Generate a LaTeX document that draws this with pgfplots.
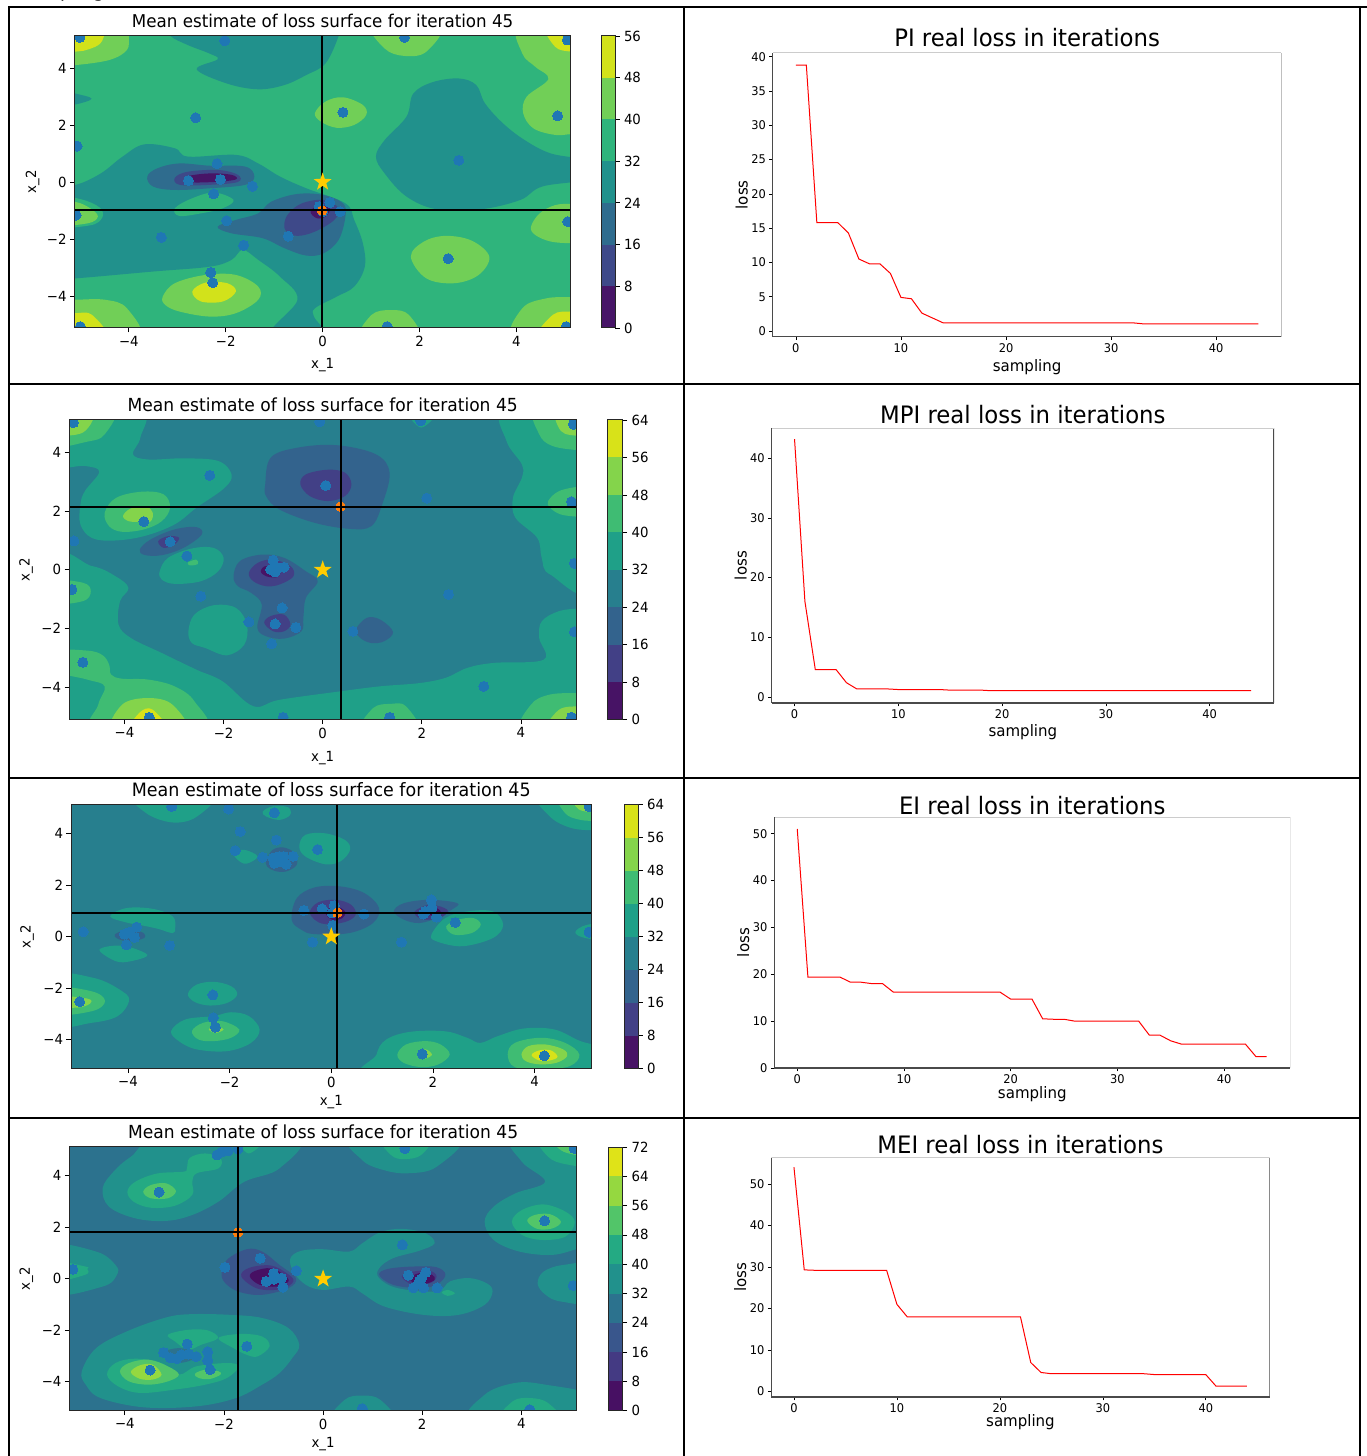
\documentclass[border=0pt]{standalone}
\usepackage{fontspec}
\setmainfont{DejaVu Sans}
\newfontfamily\cnd{DejaVu Sans}[FakeStretch=0.95]
\usepackage{pgfplots}
\pgfplotsset{compat=1.18}
\definecolor{a0}{HTML}{471567}\definecolor{a1}{HTML}{3E4989}\definecolor{a2}{HTML}{2F6C8E}\definecolor{a3}{HTML}{21918C}\definecolor{a4}{HTML}{2FB47C}\definecolor{a5}{HTML}{71CF57}\definecolor{a6}{HTML}{D2E21B}
\definecolor{b0}{HTML}{471365}\definecolor{b1}{HTML}{424086}\definecolor{b2}{HTML}{33638D}\definecolor{b3}{HTML}{277F8E}\definecolor{b4}{HTML}{1FA088}\definecolor{b5}{HTML}{3FBC73}\definecolor{b6}{HTML}{84D44B}\definecolor{b7}{HTML}{D8E219}
\definecolor{d0}{HTML}{471063}\definecolor{d1}{HTML}{443A83}\definecolor{d2}{HTML}{39568C}\definecolor{d3}{HTML}{2C728E}\definecolor{d4}{HTML}{21918C}\definecolor{d5}{HTML}{24AA83}\definecolor{d6}{HTML}{52C569}\definecolor{d7}{HTML}{95D840}\definecolor{d8}{HTML}{DFE318}
\definecolor{ptb}{HTML}{1F77B4}\definecolor{org}{HTML}{FF7F0E}\definecolor{gld}{HTML}{FFCC00}\definecolor{spn}{HTML}{4A4A4A}
\pgfdeclareplotmark{fstar}{%
 \pgfpathmoveto{\pgfpointpolar{90}{\pgfplotmarksize}}%
 \pgfpathlineto{\pgfpointpolar{126}{0.4\pgfplotmarksize}}\pgfpathlineto{\pgfpointpolar{162}{\pgfplotmarksize}}%
 \pgfpathlineto{\pgfpointpolar{198}{0.4\pgfplotmarksize}}\pgfpathlineto{\pgfpointpolar{234}{\pgfplotmarksize}}%
 \pgfpathlineto{\pgfpointpolar{270}{0.4\pgfplotmarksize}}\pgfpathlineto{\pgfpointpolar{306}{\pgfplotmarksize}}%
 \pgfpathlineto{\pgfpointpolar{342}{0.4\pgfplotmarksize}}\pgfpathlineto{\pgfpointpolar{18}{\pgfplotmarksize}}%
 \pgfpathlineto{\pgfpointpolar{54}{0.4\pgfplotmarksize}}\pgfpathclose\pgfusepathqfill}
\newcommand{\tf}{\cnd\fontsize{17.6}{20}\selectfont}
\newcommand{\tfb}{\cnd\fontsize{18}{20}\selectfont}
\newcommand{\tfc}{\cnd\fontsize{18.4}{20}\selectfont}
\newcommand{\tk}{\cnd\fontsize{14}{16}\selectfont}
\newcommand{\tl}{\cnd\fontsize{12}{14}\selectfont}
\newcommand{\ttl}{\cnd\fontsize{24}{28}\selectfont}
\newcommand{\lb}{\cnd\fontsize{15.8}{18}\selectfont}
\pgfplotsset{
 base/.style={scale only axis,clip=true,clip marker paths=true,axis on top,tick align=outside,major tick length=4.5pt,tick style={black,line width=.8pt},axis line style={line width=1pt,draw=black!85},/pgf/number format/assume math mode=true},
 cont/.style n args={7}{base,at={(#1pt,#2pt)},anchor=south west,width=#3pt,height=#4pt,
  xmin=-5.12,xmax=5.12,ymin=-5.12,ymax=5.12,xtick={-4,-2,0,2,4},ytick={-4,-2,0,2,4},xtick pos=bottom,ytick pos=left,
  xticklabels={−4,−2,0,2,4},yticklabels={−4,−2,0,2,4},ticklabel style={font=\tk},
  title={Mean estimate of loss surface for iteration 45},xlabel={x\_1},ylabel={x\_2},
  every axis title/.style={at={(rel axis cs:.5,1)},yshift=15pt,anchor=center,font=\tf},
  every axis x label/.style={at={(rel axis cs:.5,0)},yshift=-#6pt,anchor=center,font=\tk},
  every axis y label/.style={at={(rel axis cs:0,.5)},xshift=-#7pt,rotate=90,anchor=center,font=\tk},
  axis background/.style={fill=#5}},
 cbar/.style n args={6}{base,axis on top,at={(#1pt,#2pt)},anchor=south west,width=#3pt,height=#4pt,xmin=0,xmax=1,ymin=0,ymax=#5,xtick=\empty,ytick={#6},
  ytick pos=right,yticklabel pos=right,ticklabel style={font=\tk},yticklabel style={xshift=1pt}},
 loss/.style n args={9}{base,at={(#1pt,#2pt)},anchor=south west,width=#3pt,height=#4pt,
  xmin=#5,xmax=46.2,ymin=#6,ymax=#7,xtick={0,10,20,30,40},axis x line*=bottom,axis y line*=left,
  axis line style={line width=1.2pt,draw=spn,-},ticklabel style={font=\tl},tick style={black,line width=.6pt},major tick length=3.5pt,
  xlabel={sampling},ylabel={loss},
  every axis title/.style={at={(rel axis cs:.5,1)},yshift=#8pt,anchor=center,font=\ttl},
  every axis x label/.style={at={(rel axis cs:.5,0)},yshift=-#9pt,anchor=center,font=\lb},
  every axis y label/.style={at={(rel axis cs:0,.5)},xshift=-31pt,rotate=90,anchor=center,font=\lb}}
}
\newcommand{\rg}[2]{\addplot[fill=#1,draw=none,smooth cycle,tension=.6,forget plot] coordinates {#2};}
\newcommand{\pts}[1]{\addplot[only marks,mark=*,mark size=5pt,draw=ptb,fill=ptb,mark options={draw=ptb,fill=ptb,line width=0pt},forget plot] coordinates {#1};}
\newcommand{\best}[2]{%
 \addplot[only marks,mark=*,mark size=4.8pt,draw=org,fill=org,mark options={draw=org,fill=org,line width=0pt},forget plot] coordinates {(#1,#2)};
 \addplot[black,line width=2pt,forget plot] coordinates {(#1,-5.12)(#1,5.12)};
 \addplot[black,line width=2pt,forget plot] coordinates {(-5.12,#2)(5.12,#2)};
 \addplot[only marks,mark=fstar,mark size=9.5pt,draw=gld,fill=gld,mark options={draw=gld,fill=gld},forget plot] coordinates {(0,0)};}
\newcommand{\cb}[3]{\addplot[fill=#1,draw=none,forget plot] coordinates {(0,#2)(1,#2)(1,#3)(0,#3)} -- cycle;}
\newcommand{\frameR}{\draw[spn,line width=1.2pt] (rel axis cs:1,0)--(rel axis cs:1,1); \draw[black!20,line width=1pt] (rel axis cs:0,1)--(rel axis cs:1,1);}
\begin{document}
\begin{tikzpicture}
\useasboundingbox (0pt,0pt) rectangle (1367pt,1456pt);
\fill[white] (0pt,0pt) rectangle (1367pt,1456pt);
\begin{scope}
\clip (0pt,0pt) rectangle (1367pt,1456pt);
\node[anchor=base west,inner sep=0pt,font=\fontsize{18}{20}\selectfont] at (20pt,1458.5pt) {Sampling};
\end{scope}
% ---------- panel 1
\begin{axis}[cont={74.6}{1128}{496.1}{292}{a4}{37}{42}]
\rg{a3}{(-3.2,5.5)(-3.14,5.12)(-2.78,4.8)(-2.33,4.5)(-2.17,4.3)(-2.6,3.95)(-1.97,3.45)(-1.33,3.25)(-.79,3.4)(-.34,3.75)(.06,4.16)(.33,5.12)(.35,5.5)}
\rg{a3}{(-5.4,3.2)(-5.1,3.1)(-4.77,2.92)(-5.1,2.72)(-5.4,2.7)}
\rg{a3}{(2.81,3.63)(3.17,3.4)(3.35,2.76)(3.72,2.06)(4.17,1.47)(4.71,1.0)(5.5,.72)(5.5,.12)(4.53,-.16)(4.08,-.63)(3.26,-.96)(2.36,-.96)(1.73,-.51)(1.28,.3)(1.1,.89)(1.28,1.47)(1.73,2.29)(1.87,3.1)(2.27,3.5)}
\rg{a3}{(-5.6,-.1)(-5.1,-.1)(-4.58,.3)(-4.13,.89)(-3.68,1.32)(-3.05,1.18)(-2.78,.89)(-1.79,.95)(-1.33,.65)(-.88,.19)(-.34,-.22)(.47,-.75)(.65,-1.33)(.83,-2.15)(.87,-2.97)(.65,-3.67)(.29,-4.02)(-.16,-4.43)(-.18,-4.72)(-.03,-5.3)(-1.06,-5.3)(-.52,-4.13)(-.88,-3.32)(-1.33,-2.73)(-1.65,-2.38)(-1.88,-2.73)(-2.33,-2.97)(-3.5,-3.14)(-5.1,-3.38)(-5.6,-3.4)}
\rg{a4}{(-5.5,-.55)(-5,-.6)(-4.6,-.9)(-4.55,-1.25)(-4.8,-1.52)(-5.5,-1.52)}
\rg{a5}{(-5.5,-.7)(-5.1,-.7)(-4.8,-.92)(-4.64,-1.21)(-4.85,-1.45)(-5.5,-1.47)}
\rg{a4}{(-3.05,-.92)(-2.69,-.57)(-2.24,-.37)(-1.84,-.63)(-2.06,-.92)(-2.51,-1.1)(-2.96,-1.19)}
\rg{a2}{(-3.62,.19)(-3.41,.48)(-2.96,.65)(-2.33,.57)(-1.6,.54)(-1.41,.19)(-1.6,-.1)(-2.33,-.22)(-3.05,-.28)(-3.5,-.16)}
\rg{a1}{(-3.05,.15)(-2.78,.36)(-2.15,.42)(-1.75,.25)(-1.75,0)(-2.33,-.1)(-2.95,-.1)}
\rg{a0}{(-2.78,.2)(-2.33,.3)(-1.88,.25)(-1.79,.09)(-2.24,0)(-2.78,0)}
\rg{a2}{(-2.17,-1.57)(-1.79,-1.33)(-1.33,-1.1)(-1.06,-.69)(-.52,-.42)(.02,-.46)(.42,-.75)(.47,-1.21)(.33,-2.03)(.02,-2.5)(-.34,-2.58)(-.79,-2.32)(-1.24,-1.97)(-1.88,-1.8)}
\rg{a1}{(-.79,-1.45)(-.7,-1.1)(-.43,-.75)(.02,-.63)(.33,-.92)(.24,-1.33)(-.16,-1.74)(-.52,-1.89)(-.75,-1.74)}
\rg{a0}{(-.25,-1.04)(-.07,-.81)(.15,-.92)(.06,-1.21)(-.12,-1.27)}
\rg{a5}{(-5.5,4.1)(-5.1,4.1)(-4.4,4.28)(-4.04,4.63)(-4.0,5.12)(-4.0,5.5)(-5.5,5.5)}
\rg{a6}{(-5.5,4.57)(-5.11,4.57)(-4.94,4.6)(-4.63,4.8)(-4.51,5.12)(-4.5,5.5)(-5.5,5.5)}
\rg{a5}{(1.05,5.5)(1.28,4.68)(1.69,4.42)(2.14,4.57)(2.42,5.5)}
\rg{a5}{(4.08,5.5)(4.12,4.51)(4.39,4.04)(4.66,3.61)(4.21,2.99)(4.14,2.41)(4.35,1.88)(4.8,1.65)(5.14,1.68)(5.5,1.68)(5.5,5.5)}
\rg{a6}{(4.62,5.5)(4.8,4.74)(5.14,4.57)(5.5,4.57)(5.5,5.5)}
\rg{a5}{(-.16,2.41)(.06,2.82)(.42,2.97)(.83,2.7)(.9,2.35)(.65,2.0)(.29,1.9)(-.03,2.11)}
\rg{a5}{(4.3,-1.57)(4.48,-1.1)(4.8,-.81)(5.14,-.77)(5.5,-.77)(5.5,-2.15)(5.14,-2.15)(4.71,-2.09)(4.39,-1.86)}
\rg{a5}{(1.82,-2.62)(2.09,-2.09)(2.54,-1.89)(3.08,-2.06)(3.44,-2.62)(3.22,-3.26)(2.72,-3.55)(2.14,-3.38)}
\rg{a5}{(-3.3,-4.02)(-3.05,-3.55)(-2.42,-3.26)(-1.79,-3.26)(-1.33,-3.67)(-1.33,-4.13)(-1.79,-4.6)(-2.33,-4.72)(-2.96,-4.54)(-3.25,-4.31)}
\rg{a6}{(-2.69,-3.84)(-2.42,-3.53)(-1.97,-3.55)(-1.79,-3.84)(-2.06,-4.19)(-2.51,-4.19)}
\rg{a5}{(-5.5,-4.13)(-5.11,-4.13)(-4.49,-4.13)(-4.04,-4.43)(-3.82,-5.5)(-5.5,-5.5)}
\rg{a6}{(-5.5,-4.6)(-5.11,-4.6)(-4.76,-4.66)(-4.46,-5.5)(-5.5,-5.5)}
\rg{a5}{(.8,-5.5)(1.01,-4.66)(1.42,-4.49)(1.78,-4.66)(1.96,-5.5)}
\rg{a5}{(3.95,-5.5)(4.12,-4.43)(4.62,-4.08)(5.14,-4.04)(5.5,-4.04)(5.5,-5.5)}
\rg{a6}{(4.45,-5.5)(4.75,-4.66)(5.14,-4.54)(5.5,-4.54)(5.5,-5.5)}
\pts{(-5.01,5.07)(-2.02,4.95)(1.69,5.07)(5.05,4.98)(-2.62,2.25)(.42,2.44)(4.85,2.32)(-5.07,1.26)(2.81,.76)(-2.18,.64)(-2.77,.05)(-2.11,.09)(-1.45,-.15)(-2.25,-.42)(-5.09,-1.16)(-1.98,-1.36)(-.07,-.86)(.15,-.72)(.36,-1.04)(0,-1.04)(-.71,-1.9)(-3.33,-1.94)(-1.63,-2.22)(5.06,-1.39)(2.59,-2.69)(-2.31,-3.17)(-2.27,-3.53)(-5.0,-5.07)(1.33,-5.07)(5.03,-5.07)}
\best{-.01}{-1}
\end{axis}
\begin{axis}[cbar={601}{1128}{14}{292}{56}{0,8,16,24,32,40,48,56}]
\cb{a0}{0}{8}\cb{a1}{8}{16}\cb{a2}{16}{24}\cb{a3}{24}{32}\cb{a4}{32}{40}\cb{a5}{40}{48}\cb{a6}{48}{56}
\end{axis}
% ---------- panel 2
\begin{axis}[cont={69}{736.3}{507.4}{299.7}{b3}{38}{43},title style={font=\tfb}]
\rg{b4}{(-5.5,5.5)(-3.69,5.5)(-3.68,4.52)(-3.83,3.95)(-3.52,3.77)(-2.81,3.81)(-2.11,3.72)(-1.84,3.26)(-1.98,2.8)(-2.55,2.12)(-2.99,1.55)(-3.61,1.15)(-4.22,1.0)(-4.66,1.09)(-4.89,1.55)(-4.89,2.23)(-4.8,2.69)(-4.51,3.35)(-4.8,3.55)(-5.5,3.63)}
\rg{b5}{(-4.4,1.95)(-4.17,2.46)(-3.65,2.67)(-3.21,2.58)(-3.08,2.12)(-3.25,1.66)(-3.61,1.38)(-4.05,1.3)(-4.31,1.49)}
\rg{b6}{(-4.03,1.84)(-3.87,2.1)(-3.56,2.16)(-3.43,1.95)(-3.47,1.66)(-3.65,1.64)(-3.91,1.66)}
\rg{b5}{(-5.5,4.26)(-4.75,4.38)(-4.4,4.63)(-4.24,5.5)(-5.5,5.5)}
\rg{b6}{(-5.5,4.69)(-4.84,4.69)(-4.64,5.5)(-5.5,5.5)}
\rg{b4}{(1.7,5.5)(1.99,4.86)(2.33,5.5)}
\rg{b4}{(3.69,5.5)(3.71,4.4)(4.02,3.6)(4.02,3.15)(3.84,2.46)(3.89,1.78)(4.33,1.09)(4.42,.41)(4.59,-.16)(5.5,-.5)(5.5,5.5)}
\rg{b5}{(4.31,5.5)(4.37,4.63)(4.64,4.23)(5.2,4.08)(5.5,4.08)(5.5,5.5)}
\rg{b6}{(4.73,5.5)(4.81,4.74)(5.2,4.57)(5.5,4.57)(5.5,5.5)}
\rg{b5}{(4.55,2.35)(4.77,2.69)(5.2,2.85)(5.5,2.85)(5.5,1.81)(5.2,1.81)(4.81,1.89)(4.59,2.12)}
\rg{b4}{(-5.5,.2)(-4.66,.13)(-4.18,-.22)(-3.92,-.62)(-4.09,-1.07)(-4.12,-1.87)(-3.87,-2.33)(-3.25,-2.84)(-2.55,-3.41)(-2.02,-3.81)(-1.4,-4.66)(-.87,-4.44)(.36,-4.15)(1.16,-3.98)(1.95,-3.87)(2.48,-3.69)(2.92,-3.35)(3.45,-3.18)(4.46,-3.07)(4.37,-2.33)(4.42,-1.76)(4.77,-1.41)(5.2,-1.32)(5.6,-1.32)(5.6,-5.6)(-5.6,-5.6)}
\rg{b5}{(-5.5,-.39)(-4.84,-.44)(-4.68,-.73)(-4.84,-1.07)(-5.5,-1.13)}
\rg{b5}{(-5.5,-2.78)(-4.75,-2.76)(-4.44,-2.92)(-4.31,-3.24)(-4.27,-3.58)(-4.05,-3.72)(-3.52,-3.75)(-2.99,-3.98)(-2.59,-4.49)(-2.42,-5.5)(-4.58,-5.5)(-4.53,-4.61)(-4.4,-3.98)(-4.75,-3.75)(-5.5,-3.41)}
\rg{b6}{(-4.2,-5.5)(-4.05,-4.61)(-3.52,-4.38)(-3.03,-4.61)(-2.8,-5.5)}
\rg{b7}{(-3.88,-5.5)(-3.69,-4.87)(-3.43,-4.78)(-3.15,-5.5)}
\rg{b5}{(.8,-5.5)(1.02,-4.72)(1.38,-4.58)(1.68,-4.66)(1.9,-5.5)}
\rg{b5}{(4.05,-5.5)(4.2,-4.61)(4.59,-4.26)(5.2,-4.21)(5.5,-4.21)(5.5,-5.5)}
\rg{b6}{(4.55,-5.5)(4.77,-4.78)(5.2,-4.66)(5.5,-4.66)(5.5,-5.5)}
\rg{b4}{(-3.29,-.05)(-3.12,.41)(-2.64,.73)(-2.2,.75)(-2.0,.41)(-2.11,-.05)(-2.46,-.39)(-2.99,-.48)(-3.25,-.33)}
\rg{b5}{(-2.72,.25)(-2.55,.35)(-2.52,.2)(-2.68,.15)}
\rg{b4}{(-2.71,-2.1)(-2.59,-1.53)(-2.2,-1.21)(-1.75,-1.3)(-1.53,-1.87)(-1.58,-2.55)(-1.93,-2.92)(-2.37,-2.67)(-2.64,-2.5)}
\rg{b2}{(-1.16,2.92)(-1.05,3.83)(-.52,4.17)(.27,4.26)(1.07,3.95)(1.35,3.32)(1.2,2.23)(.98,1.49)(.54,1.4)(-.17,1.61)(-.87,2.06)(-1.14,2.51)}
\rg{b1}{(-.45,2.92)(-.34,3.26)(.1,3.42)(.45,3.32)(.58,2.92)(.45,2.52)(.1,2.35)(-.26,2.52)}
\rg{b2}{(-3.69,.7)(-3.47,1.04)(-2.99,1.38)(-2.55,1.46)(-2.44,1.21)(-2.81,.75)(-3.25,.5)(-3.6,.51)}
\rg{b1}{(-3.32,.98)(-3.12,1.15)(-2.9,1.1)(-2.99,.87)(-3.21,.75)}
\rg{b2}{(-1.8,-.22)(-1.67,.3)(-1.23,.52)(-.78,.41)(-.34,-.05)(-.1,-.39)(-.34,-.96)(-.39,-1.64)(-.43,-2.1)(-.78,-2.35)(-1.14,-2.27)(-1.32,-1.98)(-1.23,-1.18)(-1.45,-.78)(-1.71,-.56)}
\rg{b1}{(-1.49,-.1)(-1.31,.24)(-1.0,.35)(-.65,.13)(-.59,-.22)(-.87,-.5)(-1.14,-.56)(-1.4,-.39)}
\rg{b0}{(-1.25,-.05)(-1.14,.13)(-.87,-.05)(-.92,-.25)(-1.14,-.22)}
\rg{b1}{(-1.18,-1.81)(-1.05,-1.58)(-.78,-1.53)(-.65,-1.87)(-.78,-2.1)(-1.0,-2.1)}
\rg{b2}{(.67,-2.04)(.89,-1.64)(1.16,-1.7)(1.42,-2.12)(1.24,-2.44)(.98,-2.5)(.76,-2.33)}
\pts{(-5.03,5.03)(-.06,5.06)(1.98,5.09)(5.06,4.97)(-2.28,3.23)(.06,2.88)(2.1,2.45)(5.02,2.33)(-3.61,1.65)(-3.08,.96)(-5.02,.99)(-2.74,.47)(5.08,.22)(-1.0,.33)(-1.05,.01)(-.92,.07)(-.78,.09)(-.96,-.07)(-5.06,-.67)(-2.46,-.9)(2.54,-.84)(-.82,-1.3)(-1.49,-1.78)(-.96,-1.85)(-.54,-1.97)(.61,-2.1)(5.08,-2.12)(-1.03,-2.53)(-4.84,-3.16)(3.25,-3.98)(-3.5,-5.04)(-.8,-5.04)(1.35,-5.04)(5.02,-5.04)}
\best{.36}{2.16}
\end{axis}
\begin{axis}[cbar={607}{736.3}{15.6}{299.7}{64}{0,8,16,24,32,40,48,56,64}]
\cb{b0}{0}{8}\cb{b1}{8}{16}\cb{b2}{16}{24}\cb{b3}{24}{32}\cb{b4}{32}{40}\cb{b5}{40}{48}\cb{b6}{48}{56}\cb{b7}{56}{64}
\end{axis}
% ---------- panel 3
\begin{axis}[cont={71}{387.3}{520.6}{264}{b3}{33}{44},title style={font=\tfc}]
\rg{b4}{(-3.85,5.5)(-3.64,4.79)(-3.12,4.43)(-2.65,4.65)(-2.35,5.5)}
\rg{b4}{(4.1,5.5)(4.3,4.66)(4.73,4.21)(5.25,4.12)(5.5,4.12)(5.5,5.5)}
\rg{b5}{(4.5,5.5)(4.6,4.79)(4.9,4.53)(5.25,4.49)(5.5,4.49)(5.5,5.5)}
\rg{b6}{(4.78,5.5)(4.86,4.95)(5.25,4.81)(5.5,4.81)(5.5,5.5)}
\rg{b4}{(-1.35,4.85)(-1.15,5.06)(-.85,5.02)(-.81,4.72)(-1.02,4.53)(-1.28,4.66)}
\rg{b4}{(-.63,3.5)(-.51,3.95)(-.12,4.01)(.27,3.75)(.37,3.37)(.18,2.92)(-.12,2.81)(-.51,3.11)}
\rg{b4}{(-1.92,3.24)(-1.71,3.37)(-1.45,3.11)(-1.67,2.83)(-1.84,2.98)}
\rg{b4}{(-4.35,.79)(-4.03,1.11)(-3.51,1.08)(-3.12,.79)(-3.07,.34)(-3.12,.14)(-3.4,.3)(-3.7,.43)(-4.03,.55)}
\rg{b4}{(-4.56,-.5)(-4.11,-.35)(-3.62,-.7)(-3.94,-.95)(-4.24,-.95)}
\rg{b4}{(1.97,.08)(2.24,.72)(2.67,.98)(3.18,.98)(3.38,.46)(3.18,-.05)(2.58,-.37)(2.07,-.18)}
\rg{b5}{(2.26,.4)(2.5,.66)(2.8,.72)(2.94,.46)(2.76,.14)(2.41,.08)}
\rg{b4}{(4.8,.18)(5.03,.46)(5.5,.49)(5.5,-.12)(4.99,-.05)}
\rg{b4}{(-5.5,-1.54)(-4.67,-1.6)(-4.11,-2.12)(-3.98,-2.5)(-4.2,-3.08)(-4.71,-3.34)(-5.5,-3.41)}
\rg{b5}{(-5.5,-1.99)(-4.71,-2.12)(-4.45,-2.5)(-4.71,-2.89)(-5.5,-2.99)}
\rg{b6}{(-5.5,-2.3)(-4.8,-2.4)(-4.75,-2.6)(-5.0,-2.75)(-5.5,-2.7)}
\rg{b4}{(-2.82,-2.22)(-2.65,-1.86)(-2.31,-1.75)(-1.97,-1.92)(-1.85,-2.25)(-2.05,-2.57)(-2.39,-2.67)(-2.69,-2.53)}
\rg{b4}{(-3.15,-3.66)(-2.87,-3.21)(-2.31,-3.08)(-1.97,-2.93)(-1.62,-3.08)(-1.41,-3.6)(-1.58,-4.12)(-2.05,-4.44)(-2.65,-4.37)(-3.0,-4.05)}
\rg{b5}{(-2.74,-3.66)(-2.52,-3.34)(-2.14,-3.28)(-1.81,-3.6)(-1.97,-3.92)(-2.31,-4.05)(-2.61,-3.99)}
\rg{b6}{(-2.41,-3.6)(-2.27,-3.47)(-2.12,-3.6)(-2.27,-3.73)}
\rg{b4}{(.9,-5.5)(.89,-4.57)(1.08,-3.99)(1.55,-3.69)(2.24,-3.67)(2.67,-3.92)(2.93,-4.12)(3.27,-3.86)(3.79,-3.56)(4.39,-3.6)(4.9,-4.05)(5.5,-4.45)(5.5,-5.5)}
\rg{b5}{(1.3,-4.57)(1.47,-4.18)(1.85,-4.05)(2.15,-4.18)(2.33,-4.57)(2.11,-4.95)(1.77,-5.06)(1.42,-4.89)}
\rg{b6}{(1.71,-4.57)(1.85,-4.37)(1.98,-4.57)(1.85,-4.72)}
\rg{b5}{(3.47,-4.57)(3.61,-4.12)(4.13,-3.92)(4.6,-4.12)(4.88,-4.57)(4.69,-5.02)(4.13,-5.15)(3.61,-5.06)}
\rg{b6}{(3.74,-4.57)(3.87,-4.25)(4.21,-4.18)(4.56,-4.37)(4.64,-4.63)(4.43,-4.89)(4.09,-4.95)(3.83,-4.83)}
\rg{b7}{(3.94,-4.59)(4.09,-4.41)(4.32,-4.41)(4.45,-4.66)(4.3,-4.8)(4.09,-4.8)}
\rg{b2}{(-.78,.66)(-.68,1.49)(-.33,1.91)(.18,1.95)(.65,1.69)(.94,1.11)(.82,.53)(.35,.14)(-.33,.1)(-.59,.27)}
\rg{b1}{(-.42,.98)(-.25,1.34)(.09,1.43)(.39,1.24)(.48,.85)(.27,.57)(-.12,.49)(-.33,.66)}
\rg{b0}{(-.12,.98)(.09,1.17)(.27,.98)(.22,.72)(.01,.66)}
\rg{b2}{(1.23,.98)(1.43,1.3)(1.94,1.43)(2.48,1.3)(2.37,1.05)(2.07,.72)(1.73,.53)(1.43,.66)}
\rg{b1}{(1.64,.98)(1.94,1.24)(2.28,1.05)(2.2,.79)(1.94,.66)(1.73,.72)}
\rg{b0}{(1.77,1.05)(1.98,1.17)(2.15,.98)(1.98,.83)(1.81,.88)}
\rg{b2}{(-1.28,2.98)(-1.15,3.37)(-.94,3.46)(-.72,3.24)(-.68,2.79)(-.89,2.53)(-1.11,2.55)(-1.26,2.72)}
\rg{b2}{(-4.26,.08)(-4.07,.23)(-3.73,.18)(-3.68,-.05)(-3.98,-.18)(-4.2,-.08)}
\pts{(-3.14,5.05)(-2.02,4.95)(-1.12,4.81)(5.07,5.05)(-1.79,4.08)(-1.08,3.75)(-1.89,3.34)(-.27,3.38)(-1.35,3.08)(-1.15,3.05)(-1.02,3.11)(-.94,3.11)(-.75,3.12)(-1.12,2.85)(-1.02,2.92)(-.89,2.81)(1.97,1.43)(1.98,1.11)(1.85,.98)(1.81,.88)(2.07,.76)(2.44,.55)(-.54,1.02)(-.18,1.08)(.06,1.21)(.01,.92)(.64,.88)(.03,.44)(-.37,-.21)(1.38,-.21)(5.07,.18)(-4.88,.19)(-3.83,.37)(-4.07,.1)(-3.97,.17)(-3.87,-.03)(-4.03,-.31)(-3.18,-.34)(-4.95,-2.52)(-2.33,-2.26)(-2.32,-3.14)(-2.28,-3.51)(1.79,-4.55)(4.19,-4.62)}
\best{.12}{.93}
\end{axis}
\begin{axis}[cbar={624}{387.3}{14}{264}{64}{0,8,16,24,32,40,48,56,64}]
\cb{b0}{0}{8}\cb{b1}{8}{16}\cb{b2}{16}{24}\cb{b3}{24}{32}\cb{b4}{32}{40}\cb{b5}{40}{48}\cb{b6}{48}{56}\cb{b7}{56}{64}
\end{axis}
% ---------- panel 4
\begin{axis}[cont={69.4}{45.3}{507.4}{263.7}{d3}{33}{43},title style={font=\tfb}]
\rg{d4}{(-3.2,5.5)(-3.88,4.74)(-4.23,4.16)(-4.45,3.51)(-4.32,2.8)(-3.79,2.35)(-3.17,2.25)(-2.64,2.48)(-2.11,3.0)(-1.59,3.77)(-.88,4.29)(-.57,5.5)}
\rg{d5}{(-3.95,3.38)(-3.79,3.77)(-3.35,4.09)(-2.82,4.16)(-2.75,4.29)(-2.69,4.7)(-2.38,4.87)(-2.07,4.68)(-2.11,4.29)(-2.55,4.1)(-2.64,3.77)(-2.64,3.26)(-2.99,2.84)(-3.47,2.76)(-3.82,2.99)}
\rg{d6}{(-3.63,3.38)(-3.48,3.64)(-3.17,3.71)(-2.97,3.41)(-3.13,3.13)(-3.48,3.13)}
\rg{d5}{(-1.7,5.5)(-1.5,4.87)(-1.15,5.5)}
\rg{d4}{(.6,5.5)(.79,4.61)(1.23,4.22)(1.72,4.1)(2.29,4.35)(2.72,5.5)}
\rg{d5}{(1.18,5.5)(1.37,4.81)(1.63,4.65)(1.98,4.81)(2.15,5.5)}
\rg{d4}{(3.84,5.5)(4.01,4.55)(4.48,3.77)(3.88,3.32)(3.44,2.8)(3.26,2.22)(3.44,1.51)(3.96,1.06)(4.63,.93)(5.2,1.19)(5.5,1.19)(5.5,5.5)}
\rg{d5}{(4.39,5.5)(4.54,4.74)(4.93,4.44)(5.5,4.42)(5.5,5.5)}
\rg{d6}{(4.69,5.5)(4.85,4.94)(5.5,4.78)(5.5,5.5)}
\rg{d5}{(3.81,2.22)(4.01,2.67)(4.45,2.89)(4.89,2.61)(5.08,2.2)(4.89,1.64)(4.41,1.51)(4.01,1.71)}
\rg{d6}{(4.12,2.25)(4.27,2.48)(4.58,2.51)(4.8,2.22)(4.63,1.96)(4.32,1.94)}
\rg{d4}{(4.33,-.19)(4.45,.28)(4.85,.54)(5.5,.52)(5.5,-.9)(4.8,-.88)(4.49,-.62)}
\rg{d4}{(-5.5,1.25)(-4.58,1.06)(-4.19,.54)(-4.16,.16)(-4.45,-.3)(-5.5,-.56)}
\rg{d5}{(-5.5,.67)(-4.8,.48)(-4.76,.39)(-4.8,.16)(-5.5,-.1)}
\rg{d4}{(-.66,.8)(-.44,1.09)(0,1.15)(.53,1.06)(.79,1.38)(1.15,1.81)(1.59,1.94)(2.07,1.77)(2.25,1.38)(1.94,1.09)(1.41,.8)(1.13,.41)(1.13,.03)(1.5,-.36)(2.29,-.49)(2.56,-.1)(2.95,.03)(3.3,-.17)(3.42,-.49)(3.26,-1.01)(2.73,-1.4)(2.03,-1.4)(1.23,-1.07)(.79,-.56)(.53,-.3)(0,-.43)(-.35,-.23)(-.6,.28)}
\rg{d5}{(2.4,-.53)(2.51,-.43)(2.66,-.56)(2.51,-.66)}
\rg{d2}{(1.13,.16)(1.32,.39)(1.85,.48)(2.29,.45)(2.47,.16)(2.29,-.23)(1.94,-.36)(1.41,-.23)}
\rg{d1}{(1.59,.09)(1.81,.28)(2.16,.31)(2.29,.09)(2.16,-.17)(1.81,-.23)}
\rg{d0}{(1.76,.03)(1.94,.22)(2.2,.16)(2.25,-.04)(2.07,-.19)(1.85,-.19)}
\rg{d2}{(-2.05,.16)(-1.94,.74)(-1.54,1.15)(-1.23,1.06)(-.88,.54)(-.55,.03)(-.7,-.36)(-1.23,-.62)(-1.67,-.52)(-1.94,-.23)}
\rg{d1}{(-1.65,.09)(-1.5,.42)(-1.06,.52)(-.72,.2)(-.6,-.1)(-.85,-.4)(-1.32,-.38)}
\rg{d0}{(-1.48,.09)(-1.37,.31)(-1.06,.41)(-.79,.16)(-.7,-.1)(-.93,-.3)(-1.28,-.23)}
\rg{d4}{(-4.87,-3.59)(-4.58,-2.69)(-3.96,-2.04)(-3.17,-1.5)(-2.64,-1.37)(-1.85,-1.4)(-1.23,-1.52)(-.7,-1.91)(-.48,-2.56)(-.62,-3.07)(-.88,-3.66)(-1.23,-4.11)(-1.76,-4.63)(-2.55,-4.95)(-3.61,-4.99)(-4.49,-4.63)(-4.79,-4.11)}
\rg{d5}{(-3.13,-2.17)(-2.73,-1.98)(-2.33,-2.0)(-2.12,-2.3)(-2.46,-2.56)(-2.73,-2.75)(-2.99,-2.43)}
\rg{d5}{(-2.11,-2.3)(-1.67,-2.14)(-1.23,-2.24)(-1.08,-2.62)(-1.32,-3.01)(-1.54,-2.95)(-1.81,-2.69)}
\rg{d5}{(-4.36,-3.72)(-4.19,-3.27)(-3.79,-3.1)(-3.26,-3.27)(-2.91,-3.72)(-2.56,-3.4)(-1.94,-3.27)(-1.7,-3.4)(-1.94,-3.85)(-2.38,-4.11)(-2.99,-4.3)(-3.7,-4.43)(-4.14,-4.17)}
\rg{d6}{(-4.1,-3.59)(-3.92,-3.27)(-3.52,-3.14)(-3.13,-3.4)(-2.91,-3.72)(-3.13,-3.98)(-3.52,-4.11)(-3.92,-3.98)}
\rg{d7}{(-3.88,-3.62)(-3.7,-3.36)(-3.44,-3.33)(-3.26,-3.72)(-3.44,-3.91)(-3.7,-3.88)}
\rg{d6}{(-2.59,-3.69)(-2.38,-3.53)(-2.11,-3.59)(-2.07,-3.72)(-2.29,-3.89)(-2.51,-3.85)}
\rg{d3}{(-3.22,-2.82)(-2.91,-2.69)(-2.64,-2.82)(-2.64,-3.14)(-2.99,-3.27)(-3.22,-3.01)}
\rg{d4}{(.2,-5.5)(.44,-4.69)(.79,-4.53)(1.15,-4.69)(1.4,-5.5)}
\rg{d4}{(3.05,-5.5)(3.26,-4.5)(3.88,-4.04)(4.49,-4.11)(5.5,-4.55)(5.5,-5.5)}
\rg{d5}{(3.6,-5.5)(3.83,-4.75)(4.19,-4.63)(4.54,-4.82)(4.75,-5.5)}
\pts{(-1.72,5.04)(-2.14,4.81)(-2.03,4.94)(-1.92,4.97)(1.65,5.06)(5.07,5.06)(-3.31,3.37)(4.47,2.25)(1.6,1.32)(-1.27,.8)(-5.05,.37)(-1.98,.45)(-.54,.31)(-1.0,.21)(-.84,.03)(-.99,-.01)(-1.15,-.1)(-.81,-.32)(1.72,.14)(2.07,.25)(1.98,0)(1.94,-.1)(1.82,-.35)(2.03,-.35)(2.3,-.35)(5.05,-.26)(-1.54,-2.62)(-2.74,-2.53)(-3.22,-2.86)(-3.08,-3.07)(-2.95,-3.1)(-2.86,-2.95)(-2.71,-2.92)(-2.56,-3.02)(-2.33,-2.83)(-2.33,-3.17)(-2.28,-3.53)(-3.49,-3.54)(.79,-5.04)(4.17,-5.08)(5.13,3.5)}
\best{-1.72}{1.8}
\end{axis}
\begin{axis}[cbar={608}{45.3}{14.6}{263.7}{72}{0,8,16,24,32,40,48,56,64,72}]
\cb{d0}{0}{8}\cb{d1}{8}{16}\cb{d2}{16}{24}\cb{d3}{24}{32}\cb{d4}{32}{40}\cb{d5}{40}{48}\cb{d6}{48}{56}\cb{d7}{56}{64}\cb{d8}{64}{72}
\end{axis}
% ---------- loss curves
\begin{axis}[loss={772.8}{1119.3}{508.6}{284}{-2.19}{-.83}{40.6}{15}{30},title={PI real loss in iterations},ytick={0,5,10,15,20,25,30,35,40}]
\addplot[red,line width=1pt] coordinates {(0,38.8)(1,38.8)(2,15.8)(3,15.8)(4,15.8)(5,14.3)(6,10.5)(7,9.8)(8,9.8)(9,8.4)(10,4.9)(11,4.7)(12,2.6)(13,1.9)(14,1.2)(20,1.2)(32,1.2)(33,1.05)(44,1.05)};
\frameR
\end{axis}
\begin{axis}[loss={771.7}{753}{502.3}{274.7}{-2.2}{-1}{45}{14}{29},title={MPI real loss in iterations},ytick={0,10,20,30,40}]
\addplot[red,line width=1pt] coordinates {(0,43.2)(1,16)(2,4.6)(3,4.6)(4,4.6)(5,2.4)(6,1.35)(9,1.35)(10,1.25)(14,1.25)(15,1.15)(18,1.15)(19,1.05)(44,1.05)};
\frameR
\end{axis}
\begin{axis}[loss={774.3}{388}{515.9}{250.7}{-2.15}{0}{53.5}{12}{26},title={EI real loss in iterations},ytick={0,10,20,30,40,50}]
\addplot[red,line width=1pt] coordinates {(0,51)(1,19.4)(2,19.4)(3,19.4)(4,19.4)(5,18.3)(6,18.3)(7,18)(8,18)(9,16.2)(19,16.2)(20,14.7)(21,14.7)(22,14.7)(23,10.5)(24,10.4)(25,10.4)(26,10)(32,10)(33,7)(34,7)(35,5.8)(36,5.1)(42,5.1)(43,2.4)(44,2.4)};
\frameR
\end{axis}
\begin{axis}[loss={771.3}{59}{498.3}{239.3}{-2.2}{-1.3}{56.3}{13}{25},title={MEI real loss in iterations},ytick={0,10,20,30,40,50}]
\addplot[red,line width=1pt] coordinates {(0,54)(1,29.3)(2,29.2)(9,29.2)(10,21)(11,18)(22,18)(23,7)(24,4.6)(25,4.3)(34,4.3)(35,4.1)(40,4.1)(41,1.3)(44,1.3)};
\frameR
\end{axis}
% ---------- table rules
\draw[black,line width=2pt] (8.5pt,0pt)--(8.5pt,1449pt)--(1367pt,1449pt);
\draw[black,line width=2pt] (684pt,0pt)--(684pt,1449pt);
\draw[black,line width=2pt] (1360pt,0pt)--(1360pt,1449pt);
\draw[black,line width=2pt] (8.5pt,1072pt)--(1360pt,1072pt);
\draw[black,line width=2pt] (8.5pt,678pt)--(1360pt,678pt);
\draw[black,line width=2pt] (8.5pt,338pt)--(1360pt,338pt);
\end{tikzpicture}
\end{document}
